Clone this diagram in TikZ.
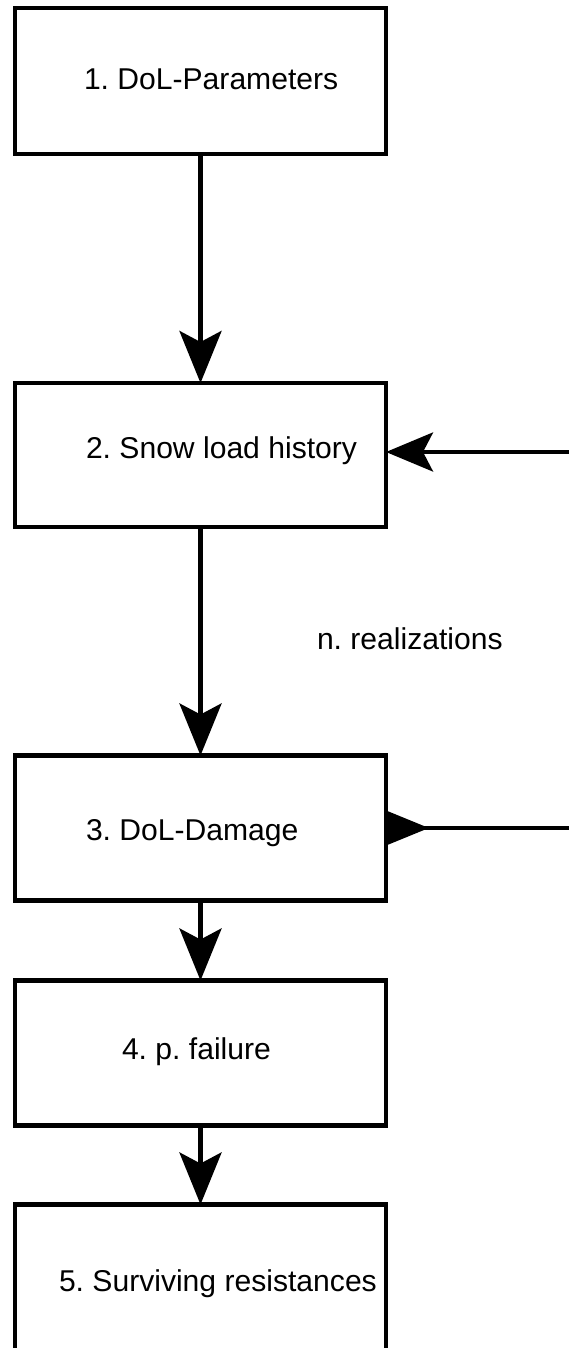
\documentclass[tikz,border=0pt]{standalone}
\usepackage{fontspec}
\setmainfont{Liberation Sans}
\usetikzlibrary{arrows.meta}
\frenchspacing
\begin{document}
\begin{tikzpicture}[x=1pt,y=-1pt,
  box/.style={draw=black, line width=4.5pt, minimum width=371pt, inner sep=0pt, outer sep=0pt, rectangle},
  lbl/.style={anchor=base west, inner sep=0pt, outer sep=0pt, font=\fontsize{30.1}{34}\selectfont},
  flow/.style={line width=4.5pt, -{Stealth[length=52pt, width=42pt, inset=11pt]}},
  side/.style={line width=4pt, -{Stealth[length=47pt, width=39pt, inset=10pt]}},
  rev/.style={line width=4pt, -{Triangle[reversed, length=43pt, width=34pt]}}]
\useasboundingbox[fill=white] (0,0) rectangle (569,1348);
\node[box, minimum height=146pt] (b1) at (200.5,81) {};
\node[box, minimum height=144pt] (b2) at (200.5,455) {};
\node[box, minimum height=145pt] (b3) at (200.5,828) {};
\node[box, minimum height=145pt] (b4) at (200.5,1053) {};
\node[box, minimum height=152pt] (b5) at (200.5,1280.5) {};
\node[lbl] (t1) at (84,90) {1. DoL-Parameters};
\node[lbl] (t2) at (86,458) {2. Snow load history};
\node[lbl] (t3) at (86,840) {3. DoL-Damage};
\node[lbl] (t4) at (122,1059) {4. p. failure};
\node[lbl] (t5) at (59,1291) {5. Surviving resistances};
\node[lbl] (nr) at (317,649) {n. realizations};
\draw[flow] (b1.south) -- (b2.north);
\draw[flow] (b2.south) -- (b3.north);
\draw[flow] (b3.south) -- (b4.north);
\draw[flow] (b4.south) -- (b5.north);
\coordinate (in2) at (575,452);
\coordinate (in3) at (575,828);
\draw[side] (in2) -- (in2 -| b2.east);
\draw[rev] (in3) -- (in3 -| b3.east);
\end{tikzpicture}
\end{document}
